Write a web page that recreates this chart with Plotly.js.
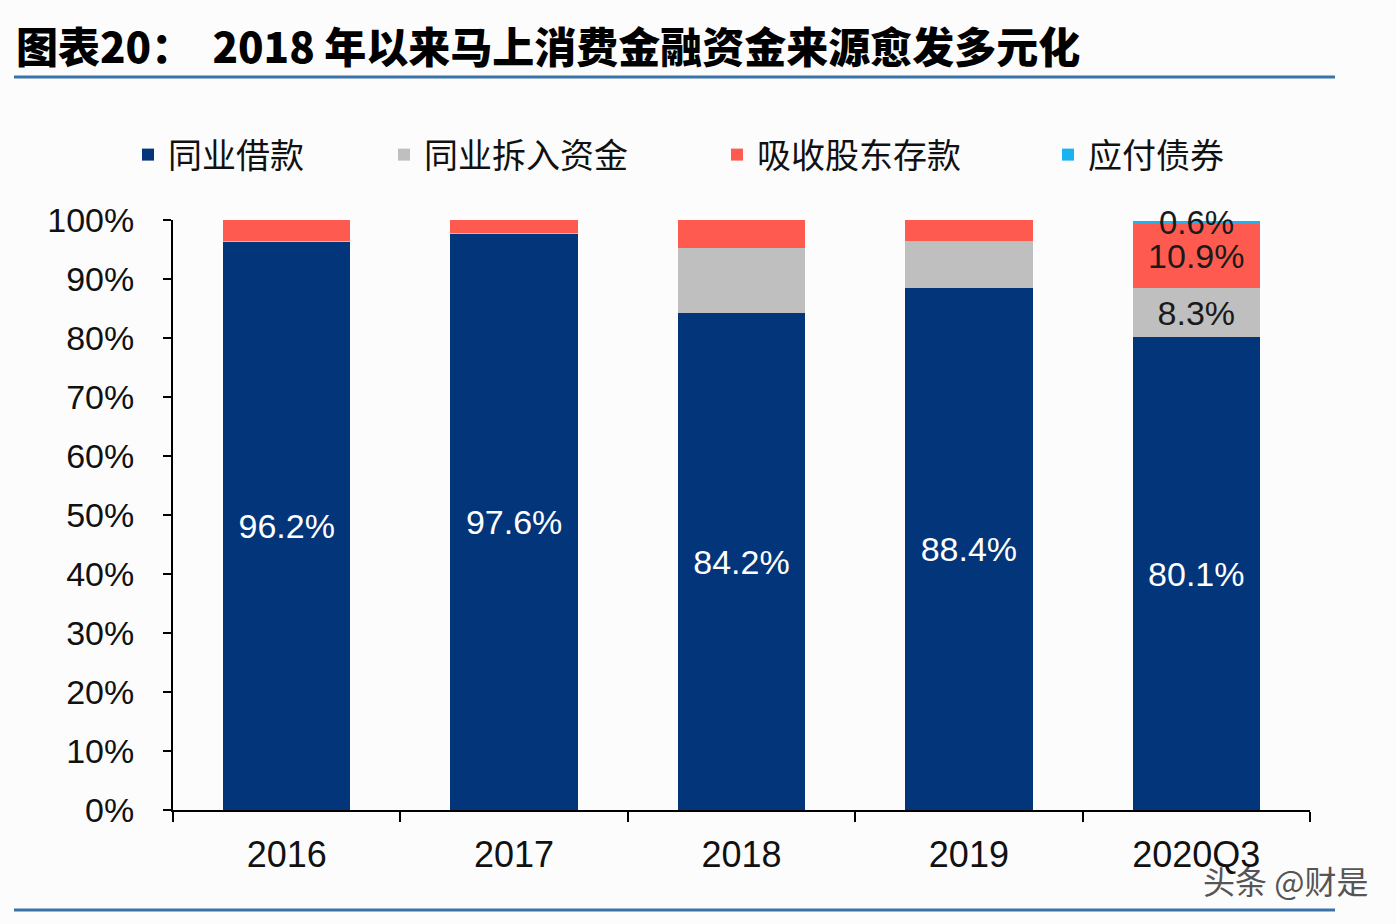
<!DOCTYPE html>
<html>
<head>
<meta charset="utf-8">
<script src="https://cdn.plot.ly/plotly-3.0.1.min.js"></script>
<style>
  html, body { margin: 0; padding: 0; background: #fcfcfd; }
  #chart { width: 1396px; height: 924px; }
</style>
</head>
<body>
<div id="chart"></div>
<script>
// categories and series (share of funding, %)
var years = ['2016', '2017', '2018', '2019', '2020Q3'];
var seriesNames = ['同业借款', '同业拆入资金', '吸收股东存款', '应付债券'];
var tongyeJiekuan = [96.2, 97.6, 84.2, 88.4, 80.1];
var tongyeChairu = [0.3, 0.2, 11.0, 8.1, 8.3];
var gudongCunkuan = [3.5, 2.2, 4.8, 3.5, 10.9];
var yingfuZhaiquan = [0, 0, 0, 0, 0.6];
var yTicks = [0, 10, 20, 30, 40, 50, 60, 70, 80, 90, 100];

var colors = ['#03357a', '#bfbfbf', '#fe5a50', '#1ab3ef'];
var FONT = 'Liberation Sans, Arial, sans-serif';
var CJK = 'Noto Sans CJK SC, sans-serif';

// plot area in pixels, used for paper coords of decorations
var L = 173, R = 1310, T = 220, B = 810;
function px(x) { return (x - L) / (R - L); }
function py(y) { return (B - y) / (B - T); }

function pct(v) { return v.toFixed(1) + '%'; }
// only label the last column for the small series
function lastOnly(vals) {
    return vals.map(function (v, i) { return i === vals.length - 1 ? pct(v) : ''; });
}

var allVals = [tongyeJiekuan, tongyeChairu, gudongCunkuan, yingfuZhaiquan];
var texts = [tongyeJiekuan.map(pct), lastOnly(tongyeChairu), lastOnly(gudongCunkuan), []];
var textColors = ['#ffffff', '#1a1a1a', '#1a1a1a', '#1a1a1a'];

var data = allVals.map(function (vals, k) {
    return {
        type: 'bar',
        name: seriesNames[k],
        x: years,
        y: vals,
        text: texts[k],
        textposition: 'inside',
        insidetextanchor: 'middle',
        textangle: 0,
        constraintext: 'none',
        textfont: { family: FONT, size: 34, color: textColors[k] },
        marker: { color: colors[k], line: { width: 0 } },
        legend: k === 0 ? 'legend' : 'legend' + (k + 1),
        hoverinfo: 'skip'
    };
});

// 0.6% label sits over the thin top segment
var n = years.length - 1;
var topTotal = tongyeJiekuan[n] + tongyeChairu[n] + gudongCunkuan[n] + yingfuZhaiquan[n];

var legendStarts = [128, 384, 717, 1048];
function legendAt(i) {
    return {
        orientation: 'h',
        x: px(legendStarts[i]),
        xanchor: 'left',
        y: py(155),
        yanchor: 'middle',
        bgcolor: 'rgba(0,0,0,0)',
        font: { family: CJK, size: 34, color: '#111' }
    };
}

var lineColor = '#3a73aa';

var layout = {
    width: 1396,
    height: 924,
    margin: { l: L, r: 1396 - R, t: T, b: 924 - B },
    paper_bgcolor: '#fcfcfd',
    plot_bgcolor: '#fcfcfd',
    barmode: 'stack',
    bargap: 0.44,
    showlegend: true,
    legend: legendAt(0),
    legend2: legendAt(1),
    legend3: legendAt(2),
    legend4: legendAt(3),
    title: {
        text: '图表20：  2018 年以来马上消费金融资金来源愈发多元化',
        font: { family: CJK, size: 42, color: '#000', weight: 900 },
        xref: 'container', yref: 'container',
        x: 16 / 1396, xanchor: 'left',
        y: 1 - 48 / 924, yanchor: 'middle'
    },
    xaxis: {
        type: 'category',
        showline: true,
        linecolor: '#000',
        linewidth: 2,
        ticks: 'outside',
        tickson: 'boundaries',
        ticklen: 10,
        tickwidth: 2,
        tickcolor: '#000',
        ticklabelstandoff: 12,
        tickfont: { family: FONT, size: 36, color: '#111' },
        showgrid: false,
        zeroline: false
    },
    yaxis: {
        range: [0, 100],
        tickvals: yTicks,
        ticktext: yTicks.map(function (v) { return v + '%'; }),
        showline: true,
        linecolor: '#000',
        linewidth: 2,
        ticks: 'outside',
        ticklen: 8,
        tickwidth: 2,
        tickcolor: '#000',
        ticklabelstandoff: 22,
        tickfont: { family: FONT, size: 34, color: '#111' },
        showgrid: false,
        zeroline: false
    },
    shapes: [
        { type: 'line', xref: 'paper', yref: 'paper', x0: px(14), x1: px(1335), y0: py(77), y1: py(77),
          line: { color: lineColor, width: 3 } },
        { type: 'line', xref: 'paper', yref: 'paper', x0: px(14), x1: px(1335), y0: py(910), y1: py(910),
          line: { color: lineColor, width: 3 } }
    ],
    annotations: [
        { x: years[n], y: topTotal - yingfuZhaiquan[n] / 2, xref: 'x', yref: 'y',
          text: pct(yingfuZhaiquan[n]), showarrow: false,
          font: { family: FONT, size: 33, color: '#1a1a1a' } },
        { x: px(1370), y: py(880), xref: 'paper', yref: 'paper', xanchor: 'right', yanchor: 'middle',
          text: '头条 @财是', showarrow: false,
          font: { family: CJK, size: 32, color: '#555' } }
    ]
};

Plotly.newPlot('chart', data, layout, { displayModeBar: false, staticPlot: true });
</script>
</body>
</html>
